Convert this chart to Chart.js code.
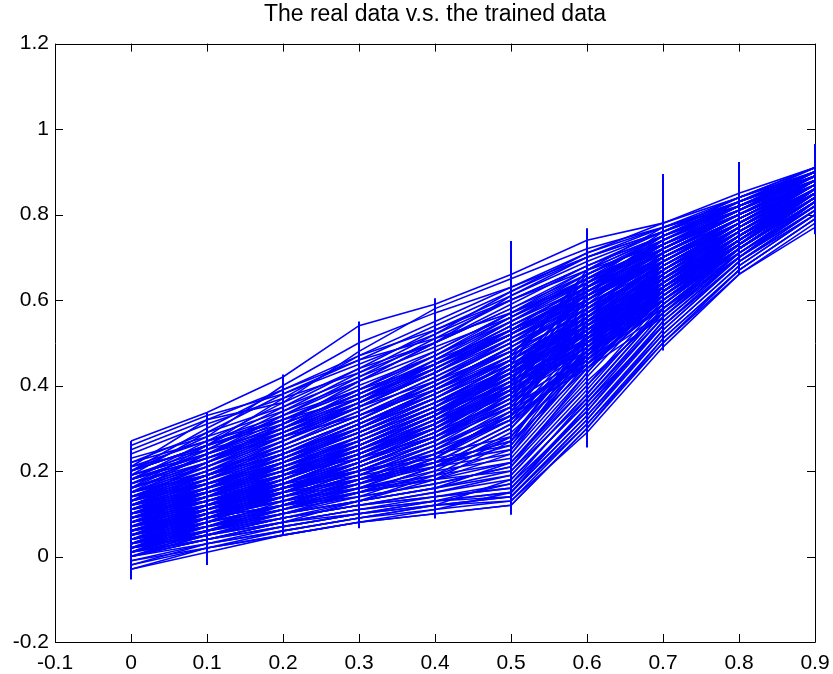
<!DOCTYPE html>
<html>
<head>
<meta charset="utf-8">
<script src="https://cdn.jsdelivr.net/npm/chart.js@4.4.1/dist/chart.umd.min.js"></script>
<style>
  html, body { margin: 0; padding: 0; background: #fff; }
  #wrap { width: 833px; height: 674px; }
</style>
</head>
<body>
<div id="wrap"><canvas id="c" width="833" height="674"></canvas></div>
<script>
// Input positions (x axis) shared by every curve
const xs = [0, 0.1, 0.2, 0.3, 0.4, 0.5, 0.6, 0.7, 0.8, 0.9];

// Tick labels
const xTicks = [-0.1, 0, 0.1, 0.2, 0.3, 0.4, 0.5, 0.6, 0.7, 0.8, 0.9];
const yTicks = [-0.2, 0, 0.2, 0.4, 0.6, 0.8, 1, 1.2];

// Spread of the real data at each input (vertical bars)
const realMin = [-0.054, -0.02, 0.05, 0.066, 0.089, 0.098, 0.255, 0.482, 0.66, 0.754];
const realMax = [0.27, 0.337, 0.426, 0.55, 0.604, 0.738, 0.768, 0.895, 0.923, 0.965];

// Trained outputs, fast-rising curves
const fastRuns = [
  [0.27, 0.337, 0.42, 0.54, 0.59, 0.66, 0.74, 0.78, 0.85, 0.91],
  [0.26, 0.33, 0.38, 0.45, 0.52, 0.60, 0.68, 0.75, 0.83, 0.90],
  [0.21, 0.32, 0.36, 0.44, 0.50, 0.58, 0.66, 0.74, 0.82, 0.90],
  [0.20, 0.28, 0.40, 0.50, 0.57, 0.63, 0.70, 0.76, 0.84, 0.91],
  [0.18, 0.27, 0.36, 0.48, 0.58, 0.65, 0.72, 0.77, 0.82, 0.89],
  [0.22, 0.29, 0.35, 0.42, 0.49, 0.56, 0.64, 0.73, 0.81, 0.90],
  [0.19, 0.25, 0.33, 0.41, 0.50, 0.61, 0.69, 0.76, 0.83, 0.89],
  [0.16, 0.24, 0.32, 0.40, 0.47, 0.55, 0.63, 0.71, 0.80, 0.88],
  [0.20, 0.26, 0.31, 0.38, 0.46, 0.53, 0.61, 0.70, 0.79, 0.87],
  [0.15, 0.22, 0.30, 0.39, 0.48, 0.57, 0.65, 0.72, 0.80, 0.88],
  [0.17, 0.25, 0.34, 0.43, 0.52, 0.62, 0.71, 0.77, 0.83, 0.90],
  [0.14, 0.21, 0.29, 0.37, 0.45, 0.54, 0.62, 0.70, 0.78, 0.87],
  [0.21, 0.27, 0.33, 0.39, 0.45, 0.52, 0.60, 0.69, 0.78, 0.87],
  [0.13, 0.20, 0.28, 0.35, 0.44, 0.53, 0.62, 0.71, 0.80, 0.89],
  [0.18, 0.23, 0.29, 0.36, 0.43, 0.51, 0.59, 0.68, 0.78, 0.88],
  [0.24, 0.31, 0.37, 0.43, 0.50, 0.58, 0.67, 0.75, 0.82, 0.89],
  [0.19, 0.29, 0.38, 0.46, 0.54, 0.62, 0.70, 0.76, 0.82, 0.88],
  [0.23, 0.28, 0.34, 0.41, 0.48, 0.57, 0.66, 0.74, 0.81, 0.89],
  [0.16, 0.26, 0.37, 0.47, 0.55, 0.63, 0.71, 0.78, 0.84, 0.90],
  [0.20, 0.30, 0.39, 0.47, 0.53, 0.60, 0.67, 0.73, 0.80, 0.88],
  [0.17, 0.23, 0.30, 0.38, 0.47, 0.57, 0.67, 0.75, 0.83, 0.90],
  [0.15, 0.24, 0.33, 0.42, 0.51, 0.60, 0.68, 0.75, 0.81, 0.88],
  [0.25, 0.32, 0.39, 0.46, 0.51, 0.57, 0.64, 0.72, 0.80, 0.89],
  [0.13, 0.22, 0.31, 0.41, 0.50, 0.59, 0.68, 0.76, 0.84, 0.91],
  [0.18, 0.26, 0.35, 0.44, 0.53, 0.61, 0.70, 0.77, 0.83, 0.89],
  [0.22, 0.27, 0.32, 0.37, 0.44, 0.52, 0.62, 0.72, 0.81, 0.90],
  [0.14, 0.20, 0.27, 0.36, 0.46, 0.56, 0.66, 0.74, 0.82, 0.90],
  [0.19, 0.24, 0.30, 0.37, 0.45, 0.55, 0.65, 0.73, 0.80, 0.87],
  [0.12, 0.19, 0.27, 0.35, 0.43, 0.52, 0.63, 0.73, 0.82, 0.90],
  [0.21, 0.25, 0.30, 0.36, 0.43, 0.53, 0.64, 0.74, 0.83, 0.91],
  [0.15, 0.21, 0.28, 0.36, 0.45, 0.54, 0.63, 0.71, 0.79, 0.88],
  [0.18, 0.24, 0.31, 0.38, 0.45, 0.53, 0.61, 0.69, 0.78, 0.88],
  [0.20, 0.26, 0.32, 0.39, 0.47, 0.56, 0.65, 0.73, 0.81, 0.89]
];

// Trained outputs, steady curves
const steadyRuns = [
  [0.12, 0.18, 0.25, 0.32, 0.40, 0.48, 0.57, 0.66, 0.76, 0.86],
  [0.10, 0.16, 0.22, 0.30, 0.37, 0.45, 0.55, 0.65, 0.75, 0.86],
  [0.08, 0.14, 0.21, 0.28, 0.36, 0.44, 0.54, 0.64, 0.75, 0.85],
  [0.15, 0.20, 0.26, 0.33, 0.41, 0.50, 0.58, 0.67, 0.76, 0.85],
  [0.11, 0.17, 0.23, 0.29, 0.36, 0.43, 0.52, 0.62, 0.73, 0.84],
  [0.07, 0.13, 0.19, 0.26, 0.33, 0.41, 0.51, 0.62, 0.74, 0.85],
  [0.14, 0.19, 0.24, 0.30, 0.38, 0.46, 0.56, 0.66, 0.77, 0.87],
  [0.09, 0.15, 0.20, 0.27, 0.34, 0.42, 0.53, 0.64, 0.76, 0.86],
  [0.05, 0.11, 0.17, 0.24, 0.31, 0.40, 0.50, 0.61, 0.73, 0.85],
  [0.13, 0.19, 0.26, 0.34, 0.42, 0.51, 0.60, 0.69, 0.78, 0.87],
  [0.06, 0.12, 0.18, 0.25, 0.33, 0.42, 0.52, 0.63, 0.74, 0.86],
  [0.10, 0.15, 0.21, 0.28, 0.35, 0.44, 0.55, 0.66, 0.77, 0.88],
  [0.04, 0.10, 0.16, 0.22, 0.29, 0.37, 0.48, 0.60, 0.72, 0.84],
  [0.12, 0.17, 0.22, 0.28, 0.35, 0.43, 0.53, 0.63, 0.74, 0.85],
  [0.16, 0.21, 0.27, 0.34, 0.42, 0.50, 0.60, 0.70, 0.79, 0.88],
  [0.03, 0.09, 0.15, 0.21, 0.28, 0.36, 0.47, 0.59, 0.72, 0.84],
  [0.08, 0.13, 0.18, 0.24, 0.31, 0.39, 0.50, 0.62, 0.74, 0.86],
  [0.11, 0.16, 0.22, 0.29, 0.37, 0.46, 0.57, 0.68, 0.78, 0.88],
  [0.02, 0.08, 0.14, 0.20, 0.27, 0.35, 0.46, 0.58, 0.71, 0.83],
  [0.09, 0.14, 0.20, 0.26, 0.33, 0.41, 0.51, 0.61, 0.72, 0.84],
  [0.14, 0.18, 0.23, 0.29, 0.36, 0.45, 0.56, 0.67, 0.77, 0.87],
  [0.06, 0.11, 0.17, 0.23, 0.30, 0.38, 0.49, 0.61, 0.73, 0.85],
  [0.12, 0.16, 0.21, 0.27, 0.34, 0.40, 0.50, 0.60, 0.71, 0.83],
  [0.17, 0.22, 0.28, 0.35, 0.43, 0.52, 0.63, 0.72, 0.80, 0.88],
  [0.01, 0.07, 0.13, 0.19, 0.26, 0.33, 0.44, 0.56, 0.70, 0.82],
  [0.10, 0.14, 0.19, 0.25, 0.32, 0.39, 0.49, 0.60, 0.72, 0.84],
  [0.05, 0.10, 0.15, 0.21, 0.28, 0.36, 0.47, 0.60, 0.73, 0.86],
  [0.13, 0.18, 0.24, 0.31, 0.39, 0.47, 0.58, 0.68, 0.78, 0.87],
  [0.07, 0.12, 0.17, 0.23, 0.31, 0.39, 0.48, 0.58, 0.70, 0.83],
  [0.19, 0.24, 0.29, 0.35, 0.41, 0.48, 0.57, 0.67, 0.77, 0.87],
  [0.11, 0.18, 0.26, 0.33, 0.39, 0.46, 0.55, 0.64, 0.74, 0.85],
  [0.09, 0.16, 0.24, 0.31, 0.38, 0.47, 0.58, 0.68, 0.77, 0.87],
  [0.13, 0.17, 0.23, 0.30, 0.37, 0.45, 0.54, 0.63, 0.73, 0.84],
  [0.04, 0.11, 0.18, 0.26, 0.34, 0.43, 0.53, 0.63, 0.74, 0.85],
  [0.07, 0.14, 0.22, 0.30, 0.39, 0.49, 0.59, 0.68, 0.77, 0.86],
  [0.15, 0.19, 0.24, 0.31, 0.39, 0.48, 0.60, 0.70, 0.79, 0.88],
  [0.02, 0.09, 0.16, 0.23, 0.31, 0.40, 0.51, 0.62, 0.73, 0.85],
  [0.10, 0.17, 0.24, 0.32, 0.41, 0.50, 0.61, 0.71, 0.80, 0.88],
  [0.06, 0.12, 0.19, 0.27, 0.35, 0.44, 0.56, 0.67, 0.77, 0.87],
  [0.16, 0.22, 0.29, 0.36, 0.44, 0.53, 0.62, 0.70, 0.78, 0.87],
  [0.08, 0.15, 0.21, 0.27, 0.34, 0.43, 0.54, 0.65, 0.76, 0.86],
  [0.12, 0.19, 0.27, 0.35, 0.43, 0.52, 0.62, 0.71, 0.79, 0.88],
  [0.03, 0.10, 0.17, 0.24, 0.32, 0.41, 0.52, 0.64, 0.75, 0.86],
  [0.14, 0.20, 0.25, 0.32, 0.40, 0.49, 0.59, 0.69, 0.78, 0.87],
  [0.05, 0.12, 0.19, 0.26, 0.34, 0.42, 0.53, 0.65, 0.76, 0.87],
  [0.18, 0.23, 0.28, 0.33, 0.40, 0.49, 0.60, 0.70, 0.79, 0.88],
  [0.09, 0.13, 0.18, 0.25, 0.33, 0.43, 0.55, 0.67, 0.78, 0.88],
  [0.11, 0.15, 0.20, 0.26, 0.34, 0.44, 0.57, 0.69, 0.78, 0.87],
  [0.01, 0.08, 0.15, 0.22, 0.30, 0.39, 0.50, 0.62, 0.74, 0.86],
  [0.07, 0.12, 0.18, 0.25, 0.33, 0.42, 0.54, 0.66, 0.77, 0.87]
];

// Trained outputs in between the steady and slow families
const mixedRuns = [
  [0.03, 0.08, 0.14, 0.20, 0.27, 0.35, 0.45, 0.57, 0.70, 0.83],
  [0.09, 0.15, 0.22, 0.29, 0.36, 0.44, 0.53, 0.63, 0.73, 0.84],
  [0.12, 0.18, 0.24, 0.31, 0.38, 0.47, 0.56, 0.65, 0.75, 0.86],
  [0.06, 0.11, 0.16, 0.22, 0.29, 0.37, 0.49, 0.63, 0.75, 0.86],
  [0.15, 0.21, 0.28, 0.36, 0.45, 0.54, 0.63, 0.71, 0.79, 0.88],
  [0.00, 0.06, 0.12, 0.18, 0.25, 0.34, 0.46, 0.60, 0.73, 0.85],
  [0.10, 0.16, 0.23, 0.30, 0.38, 0.46, 0.56, 0.66, 0.76, 0.86],
  [0.18, 0.24, 0.31, 0.38, 0.45, 0.53, 0.61, 0.69, 0.78, 0.88],
  [0.04, 0.09, 0.15, 0.21, 0.28, 0.37, 0.50, 0.64, 0.76, 0.86],
  [0.13, 0.19, 0.25, 0.32, 0.40, 0.49, 0.58, 0.67, 0.77, 0.87],
  [0.08, 0.13, 0.19, 0.26, 0.34, 0.43, 0.55, 0.67, 0.78, 0.88],
  [0.02, 0.07, 0.12, 0.18, 0.24, 0.32, 0.45, 0.59, 0.72, 0.84],
  [0.16, 0.22, 0.29, 0.37, 0.46, 0.55, 0.64, 0.72, 0.80, 0.89],
  [0.11, 0.17, 0.23, 0.31, 0.39, 0.48, 0.59, 0.69, 0.78, 0.88],
  [0.05, 0.11, 0.17, 0.24, 0.32, 0.41, 0.52, 0.64, 0.75, 0.86],
  [0.14, 0.19, 0.26, 0.33, 0.41, 0.51, 0.61, 0.70, 0.79, 0.88],
  [0.07, 0.12, 0.18, 0.24, 0.31, 0.40, 0.52, 0.65, 0.77, 0.87],
  [0.01, 0.06, 0.11, 0.17, 0.24, 0.33, 0.47, 0.61, 0.74, 0.85],
  [0.12, 0.17, 0.22, 0.29, 0.37, 0.46, 0.57, 0.68, 0.78, 0.88],
  [0.09, 0.14, 0.20, 0.28, 0.36, 0.45, 0.55, 0.65, 0.75, 0.86],
  [0.17, 0.23, 0.30, 0.37, 0.44, 0.52, 0.61, 0.70, 0.79, 0.88],
  [0.03, 0.09, 0.15, 0.22, 0.30, 0.39, 0.51, 0.63, 0.75, 0.86],
  [0.06, 0.10, 0.15, 0.21, 0.28, 0.38, 0.53, 0.67, 0.78, 0.87],
  [0.10, 0.15, 0.21, 0.28, 0.35, 0.43, 0.52, 0.62, 0.73, 0.85],
  [0.20, 0.26, 0.32, 0.39, 0.47, 0.56, 0.65, 0.73, 0.81, 0.89]
];

// Trained outputs that stay low up to 0.5, then jump
const lateRuns = [
  [0.00, 0.04, 0.08, 0.11, 0.14, 0.17, 0.34, 0.55, 0.70, 0.82],
  [-0.03, 0.02, 0.05, 0.08, 0.10, 0.12, 0.30, 0.50, 0.66, 0.78],
  [0.02, 0.05, 0.08, 0.10, 0.12, 0.14, 0.32, 0.52, 0.68, 0.80],
  [0.03, 0.06, 0.09, 0.12, 0.15, 0.19, 0.38, 0.58, 0.72, 0.83],
  [0.05, 0.08, 0.11, 0.14, 0.17, 0.21, 0.40, 0.60, 0.73, 0.84],
  [-0.01, 0.03, 0.06, 0.09, 0.11, 0.13, 0.31, 0.51, 0.67, 0.79],
  [0.04, 0.07, 0.10, 0.13, 0.16, 0.22, 0.42, 0.61, 0.74, 0.85],
  [0.01, 0.05, 0.09, 0.12, 0.14, 0.16, 0.35, 0.54, 0.70, 0.81],
  [0.06, 0.09, 0.12, 0.15, 0.18, 0.24, 0.44, 0.62, 0.75, 0.85],
  [0.00, 0.03, 0.07, 0.10, 0.13, 0.15, 0.33, 0.53, 0.69, 0.80],
  [0.08, 0.11, 0.14, 0.17, 0.21, 0.26, 0.46, 0.64, 0.76, 0.86],
  [-0.02, 0.03, 0.06, 0.09, 0.12, 0.18, 0.36, 0.56, 0.71, 0.82],
  [0.03, 0.07, 0.11, 0.15, 0.19, 0.25, 0.48, 0.66, 0.77, 0.86],
  [0.07, 0.10, 0.13, 0.16, 0.20, 0.23, 0.43, 0.63, 0.75, 0.85],
  [0.02, 0.06, 0.10, 0.13, 0.16, 0.20, 0.39, 0.59, 0.73, 0.84],
  [0.09, 0.12, 0.16, 0.20, 0.24, 0.28, 0.50, 0.67, 0.78, 0.87],
  [0.04, 0.08, 0.12, 0.16, 0.18, 0.22, 0.41, 0.57, 0.71, 0.82],
  [0.01, 0.04, 0.07, 0.10, 0.13, 0.17, 0.37, 0.57, 0.72, 0.83],
  [0.06, 0.10, 0.14, 0.18, 0.22, 0.27, 0.52, 0.69, 0.79, 0.88],
  [-0.02, 0.02, 0.05, 0.08, 0.11, 0.15, 0.33, 0.52, 0.68, 0.80],
  [0.05, 0.09, 0.12, 0.15, 0.18, 0.20, 0.37, 0.56, 0.71, 0.82],
  [0.01, 0.04, 0.07, 0.10, 0.12, 0.13, 0.29, 0.49, 0.66, 0.77],
  [0.07, 0.10, 0.13, 0.16, 0.19, 0.22, 0.40, 0.58, 0.72, 0.83],
  [0.03, 0.06, 0.09, 0.12, 0.14, 0.16, 0.34, 0.54, 0.69, 0.81],
  [0.10, 0.13, 0.16, 0.19, 0.22, 0.25, 0.45, 0.63, 0.75, 0.85],
  [-0.01, 0.02, 0.06, 0.09, 0.12, 0.14, 0.32, 0.53, 0.69, 0.80],
  [0.08, 0.12, 0.15, 0.18, 0.21, 0.24, 0.47, 0.65, 0.77, 0.86],
  [0.02, 0.05, 0.08, 0.11, 0.13, 0.15, 0.35, 0.55, 0.70, 0.81],
  [0.11, 0.14, 0.17, 0.20, 0.23, 0.26, 0.49, 0.66, 0.77, 0.86],
  [0.04, 0.07, 0.10, 0.13, 0.16, 0.19, 0.38, 0.58, 0.72, 0.83],
  [0.00, 0.04, 0.08, 0.11, 0.13, 0.14, 0.31, 0.50, 0.67, 0.79],
  [0.06, 0.09, 0.12, 0.14, 0.17, 0.21, 0.43, 0.62, 0.75, 0.85],
  [0.09, 0.12, 0.15, 0.18, 0.22, 0.27, 0.51, 0.68, 0.78, 0.87],
  [0.02, 0.05, 0.09, 0.12, 0.15, 0.18, 0.36, 0.54, 0.69, 0.81],
  [-0.03, 0.01, 0.05, 0.08, 0.10, 0.12, 0.30, 0.51, 0.67, 0.79]
];

// Trained outputs with a slow start and a steeper second half
const slowRuns = [
  [0.05, 0.09, 0.13, 0.18, 0.24, 0.33, 0.48, 0.63, 0.75, 0.86],
  [0.08, 0.12, 0.16, 0.21, 0.27, 0.36, 0.51, 0.65, 0.76, 0.86],
  [0.02, 0.06, 0.10, 0.14, 0.20, 0.29, 0.45, 0.60, 0.73, 0.84],
  [0.10, 0.14, 0.19, 0.24, 0.30, 0.38, 0.53, 0.66, 0.77, 0.87],
  [0.04, 0.08, 0.12, 0.17, 0.22, 0.31, 0.47, 0.62, 0.74, 0.85],
  [0.12, 0.15, 0.19, 0.23, 0.28, 0.35, 0.54, 0.68, 0.78, 0.87],
  [0.03, 0.07, 0.11, 0.15, 0.21, 0.30, 0.50, 0.64, 0.75, 0.85],
  [0.07, 0.11, 0.15, 0.20, 0.26, 0.34, 0.55, 0.69, 0.79, 0.88],
  [0.00, 0.05, 0.09, 0.13, 0.18, 0.27, 0.44, 0.59, 0.72, 0.83],
  [0.09, 0.13, 0.17, 0.22, 0.29, 0.40, 0.58, 0.70, 0.79, 0.88],
  [0.06, 0.10, 0.14, 0.19, 0.25, 0.32, 0.46, 0.61, 0.74, 0.85],
  [0.11, 0.15, 0.20, 0.25, 0.31, 0.42, 0.60, 0.72, 0.81, 0.89],
  [0.01, 0.06, 0.10, 0.15, 0.21, 0.28, 0.49, 0.64, 0.76, 0.86],
  [0.05, 0.10, 0.15, 0.20, 0.27, 0.37, 0.56, 0.69, 0.78, 0.87],
  [0.14, 0.17, 0.21, 0.26, 0.33, 0.44, 0.62, 0.73, 0.81, 0.89],
  [0.06, 0.10, 0.14, 0.19, 0.26, 0.36, 0.57, 0.71, 0.80, 0.88],
  [0.03, 0.08, 0.12, 0.17, 0.23, 0.32, 0.52, 0.67, 0.77, 0.86],
  [0.10, 0.13, 0.17, 0.22, 0.28, 0.39, 0.59, 0.72, 0.81, 0.89],
  [0.00, 0.04, 0.08, 0.13, 0.19, 0.28, 0.47, 0.63, 0.75, 0.85],
  [0.08, 0.11, 0.15, 0.20, 0.27, 0.38, 0.61, 0.74, 0.82, 0.89],
  [0.12, 0.16, 0.20, 0.25, 0.32, 0.43, 0.63, 0.74, 0.82, 0.89],
  [0.05, 0.09, 0.13, 0.17, 0.23, 0.34, 0.53, 0.66, 0.76, 0.86],
  [0.02, 0.07, 0.11, 0.16, 0.22, 0.31, 0.51, 0.66, 0.77, 0.86],
  [0.09, 0.14, 0.18, 0.24, 0.31, 0.41, 0.62, 0.73, 0.81, 0.89],
  [0.04, 0.09, 0.14, 0.19, 0.25, 0.35, 0.56, 0.70, 0.79, 0.88],
  [0.13, 0.17, 0.22, 0.27, 0.35, 0.46, 0.65, 0.75, 0.82, 0.89],
  [0.07, 0.11, 0.16, 0.21, 0.28, 0.37, 0.58, 0.71, 0.80, 0.88],
  [0.01, 0.06, 0.11, 0.16, 0.23, 0.33, 0.54, 0.68, 0.78, 0.87],
  [0.11, 0.15, 0.19, 0.24, 0.30, 0.41, 0.64, 0.76, 0.83, 0.90],
  [0.06, 0.11, 0.16, 0.22, 0.29, 0.39, 0.60, 0.72, 0.80, 0.88],
  [0.15, 0.19, 0.24, 0.30, 0.37, 0.47, 0.66, 0.75, 0.82, 0.89],
  [0.03, 0.07, 0.12, 0.18, 0.24, 0.33, 0.55, 0.69, 0.79, 0.88],
  [0.08, 0.12, 0.17, 0.23, 0.30, 0.40, 0.63, 0.75, 0.83, 0.90],
  [0.00, 0.05, 0.10, 0.15, 0.21, 0.30, 0.48, 0.62, 0.74, 0.84],
  [0.10, 0.14, 0.19, 0.25, 0.33, 0.45, 0.67, 0.77, 0.84, 0.90]
];

const BLUE = '#0000ff';
const FONT = "'Liberation Sans', Arial, Helvetica, sans-serif";

function curve(row) {
  return {
    data: row.map((v, i) => ({ x: xs[i], y: v })),
    borderColor: BLUE,
    borderWidth: 1.6,
    pointRadius: 0,
    tension: 0,
    fill: false
  };
}

const datasets = []
  .concat(fastRuns, steadyRuns, mixedRuns, lateRuns, slowRuns)
  .map(curve);

// vertical bars showing the range of the real data at each input
xs.forEach((x, i) => {
  datasets.push({
    data: [{ x: x, y: realMin[i] }, { x: x, y: realMax[i] }],
    borderColor: BLUE,
    borderWidth: 2,
    pointRadius: 0,
    tension: 0,
    fill: false,
    clip: false
  });
});

// frame around the plot box with tick marks pointing inward on all four sides
const boxTicks = {
  id: 'boxTicks',
  beforeDatasetsDraw(chart) {
    const { ctx, chartArea: a, scales } = chart;
    const len = 8;
    ctx.save();
    ctx.strokeStyle = '#000';
    ctx.lineWidth = 1;
    ctx.beginPath();
    ctx.rect(Math.round(a.left) + 0.5, Math.round(a.top) + 0.5,
             Math.round(a.right - a.left), Math.round(a.bottom - a.top));
    xTicks.forEach(v => {
      const px = Math.round(scales.x.getPixelForValue(v)) + 0.5;
      ctx.moveTo(px, a.bottom); ctx.lineTo(px, a.bottom - len);
      ctx.moveTo(px, a.top); ctx.lineTo(px, a.top + len);
    });
    yTicks.forEach(v => {
      const py = Math.round(scales.y.getPixelForValue(v)) + 0.5;
      ctx.moveTo(a.left, py); ctx.lineTo(a.left + len, py);
      ctx.moveTo(a.right, py); ctx.lineTo(a.right - len, py);
    });
    ctx.stroke();
    ctx.restore();
  }
};

new Chart(document.getElementById('c'), {
  type: 'line',
  data: { datasets },
  options: {
    responsive: false,
    animation: false,
    devicePixelRatio: 1,
    layout: { padding: { left: 0, right: 18, top: 0, bottom: 0 } },
    plugins: {
      legend: { display: false },
      tooltip: { enabled: false },
      title: {
        display: true,
        fullSize: false,
        text: 'The real data v.s. the trained data',
        color: '#000',
        font: { family: FONT, size: 23, weight: 'normal' },
        padding: { top: 1, bottom: 15 }
      }
    },
    scales: {
      x: {
        type: 'linear',
        min: -0.1,
        max: 0.9,
        afterBuildTicks(scale) { scale.ticks = xTicks.map(v => ({ value: v })); },
        afterFit(scale) {
          scale.height = 32;
          scale.paddingLeft = 0;
          scale.paddingRight = 0;
        },
        grid: { display: false, drawTicks: false },
        border: { display: false },
        ticks: {
          color: '#000',
          padding: 9,
          maxRotation: 0,
          autoSkip: false,
          font: { family: FONT, size: 21 },
          callback: v => String(Math.round(v * 10) / 10)
        }
      },
      y: {
        type: 'linear',
        min: -0.2,
        max: 1.2,
        afterBuildTicks(scale) { scale.ticks = yTicks.map(v => ({ value: v })); },
        afterFit(scale) { scale.width = 55; },
        grid: { display: false, drawTicks: false },
        border: { display: false },
        ticks: {
          color: '#000',
          padding: 6,
          autoSkip: false,
          font: { family: FONT, size: 21 },
          callback: v => String(Math.round(v * 10) / 10)
        }
      }
    }
  },
  plugins: [boxTicks]
});
</script>
</body>
</html>
